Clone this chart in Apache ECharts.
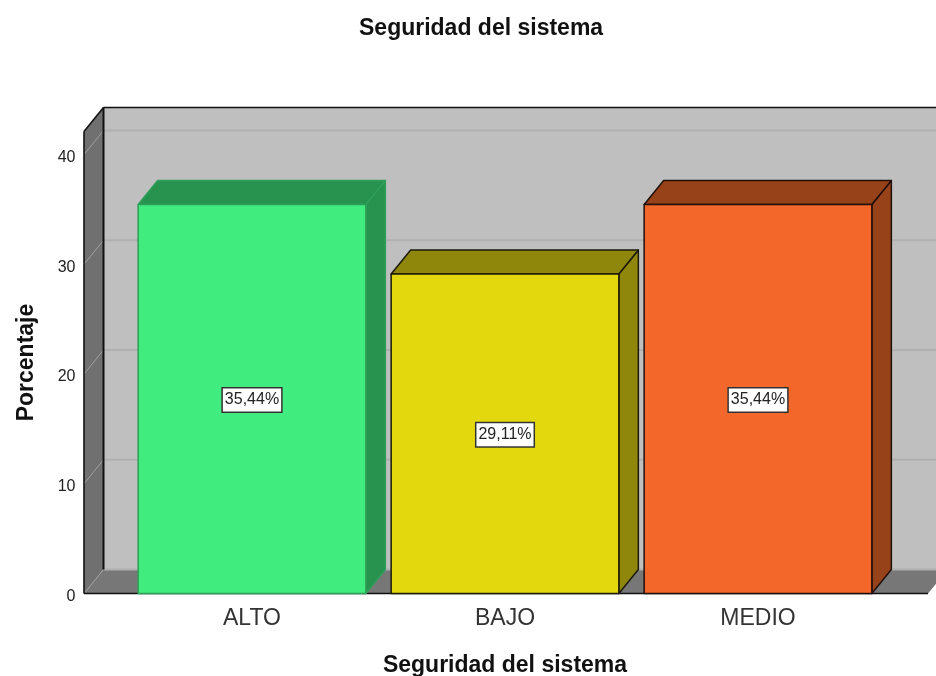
<!DOCTYPE html>
<html><head><meta charset="utf-8">
<style>html,body{margin:0;padding:0;background:#fff}#c{width:936px;height:676px}</style>
<script src="https://cdn.jsdelivr.net/npm/echarts@6/dist/echarts.min.js"></script>
</head><body><div id="c"></div>
<script>
const categories = ['ALTO', 'BAJO', 'MEDIO'];
const percentages = [35.44, 29.11, 35.44];
const valueLabels = ['35,44%', '29,11%', '35,44%'];
const yTicks = [0, 10, 20, 30, 40];
const frontColors = ['#41ec7e', '#e3d80e', '#f4672b'];
const darkColors = ['#28934f', '#8f870b', '#98421a'];
const edgeColors = ['#2f9e58', '#1c1a08', '#20100a'];
const yMax = 42.1;
const DX = 19.5, DY = 24;
const FONT = '"Liberation Sans", Arial, sans-serif';

const chart = echarts.init(document.getElementById('c'), null, {renderer: 'canvas'});

function renderWalls(params, api) {
  const cs = params.coordSys;
  const x0 = cs.x - 41.5, x1 = cs.x + cs.width + 43.5;
  const yb = cs.y + cs.height, yt = cs.y;
  const poly = (pts, fill) => ({type: 'polygon', shape: {points: pts}, style: {fill: fill}});
  const line = (a, b, c, w) => ({type: 'line', shape: {x1: a[0], y1: a[1], x2: b[0], y2: b[1]},
    style: {stroke: c, lineWidth: w}});
  const kids = [
    poly([[x0 + DX, yt - DY], [x1 + DX, yt - DY], [x1 + DX, yb - DY], [x0 + DX, yb - DY]], '#bfbfbf'),
    poly([[x0, yt], [x0 + DX, yt - DY], [x0 + DX, yb - DY], [x0, yb]], '#707070'),
    poly([[x0, yb], [x0 + DX, yb - DY], [x1 + DX, yb - DY], [x1, yb]], '#777777')
  ];
  yTicks.forEach(function (t) {
    const y = api.coord([0, t])[1];
    kids.push(line([x0 + DX, y - DY], [x1 + DX, y - DY], '#b0b0b0', 2));
    kids.push(line([x0, y], [x0 + DX, y - DY], '#a0a0a0', 1));
  });
  kids.push(line([x0, yt], [x0 + DX, yt - DY], '#111', 1.6));
  kids.push(line([x0 + DX, yt - DY], [x1 + DX, yt - DY], '#111', 1.6));
  kids.push(line([x0 + DX, yt - DY], [x0 + DX, yb - DY], '#111', 2));
  kids.push(line([x0, yt], [x0, yb], '#111', 1.6));
  kids.push(line([x0, yb], [x1, yb], '#111', 1.6));
  return {type: 'group', silent: true, children: kids};
}

function renderBar(params, api) {
  const i = api.value(0), v = api.value(1);
  const top = api.coord([i, v]), base = api.coord([i, 0]);
  const w = api.size([1, 0])[0] * 0.9;
  const l = top[0] - w / 2, r = top[0] + w / 2, t = top[1], b = base[1];
  const edge = edgeColors[i];
  const st = (f) => ({fill: f, stroke: edge, lineWidth: 1.5, lineJoin: 'round'});
  return {type: 'group', children: [
    {type: 'polygon', shape: {points: [[r, t], [r + DX, t - DY], [r + DX, b - DY], [r, b]]}, style: st(darkColors[i])},
    {type: 'polygon', shape: {points: [[l, t], [l + DX, t - DY], [r + DX, t - DY], [r, t]]}, style: st(darkColors[i])},
    {type: 'rect', shape: {x: l, y: t, width: w, height: b - t}, style: st(frontColors[i])},
    {type: 'text', x: top[0], y: (t + b) / 2 + 1, style: {
      text: valueLabels[i], fill: '#222', font: '16px ' + FONT, align: 'center', verticalAlign: 'middle',
      backgroundColor: '#fff', borderColor: '#333', borderWidth: 1.5, padding: [4, 2, 3, 2]
    }}
  ]};
}

chart.setOption({
  animation: false,
  backgroundColor: '#fff',
  title: {text: 'Seguridad del sistema', left: 354, top: 12,
    textStyle: {fontFamily: FONT, fontSize: 23, fontWeight: 'bold', color: '#111'}},
  grid: {left: 125.5, right: 51.5, top: 131.5, bottom: 82.5, containLabel: false, outerBoundsMode: 'none'},
  xAxis: {type: 'category', data: categories,
    axisLine: {show: false}, axisTick: {show: false},
    axisLabel: {fontFamily: FONT, fontSize: 23, color: '#333', margin: 14},
    name: 'Seguridad del sistema', nameLocation: 'middle', nameGap: 61,
    nameTextStyle: {fontFamily: FONT, fontSize: 23, fontWeight: 'bold', color: '#111'}},
  yAxis: {type: 'value', min: 0, max: yMax, interval: 10,
    axisLine: {show: false}, axisTick: {show: false}, splitLine: {show: false},
    axisLabel: {fontFamily: FONT, fontSize: 16, color: '#222', margin: 50, customValues: yTicks, verticalAlign: 'top', lineHeight: 6},
    name: 'Porcentaje', nameLocation: 'middle', nameGap: 87,
    nameTextStyle: {fontFamily: FONT, fontSize: 23, fontWeight: 'bold', color: '#111'}},
  series: [
    {type: 'custom', coordinateSystem: 'cartesian2d', clip: false, z: 1, silent: true,
      data: [[0, 0]], encode: {x: 0, y: 1}, renderItem: renderWalls},
    {type: 'custom', coordinateSystem: 'cartesian2d', clip: false, z: 2,
      data: percentages.map((v, i) => [i, v]), encode: {x: 0, y: 1}, renderItem: renderBar}
  ]
});
</script></body></html>
